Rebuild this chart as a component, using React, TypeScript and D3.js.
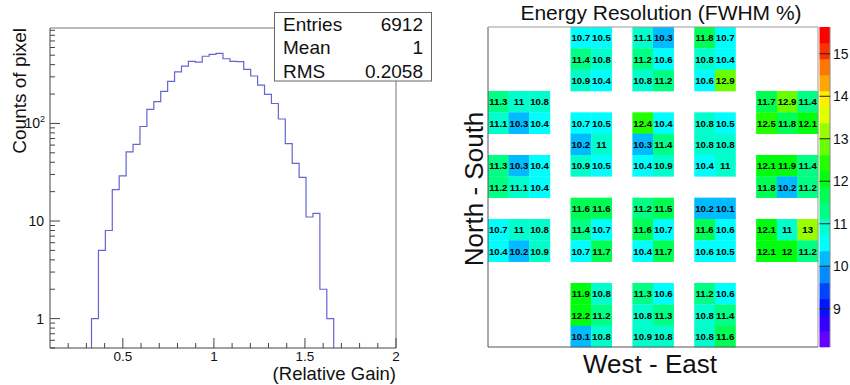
import React from "react";
import * as d3 from "d3";

const W = 850;
const H = 385;

// ---------- Histogram data ----------
const histLo = 0.1;
const histHi = 2.0;
const histBins = 50;
const firstFilledBin = 6;
const binCounts = [1, 5, 8, 21, 29, 51, 61, 93, 139, 167, 213, 270, 338, 387, 432, 424, 488, 510, 523, 460, 432, 430, 358, 306, 247, 198, 160, 111, 62, 39, 28, 11, 12, 2, 1];
const xMajorTicks = [0.5, 1, 1.5, 2];
const xMajorLabels = ["0.5", "1", "1.5", "2"];
const yMajorTicks = [1, 10, 100];
const statsLabels = ["Entries", "Mean", "RMS"];
const statsValues = ["6912", "1", "0.2058"];

// ---------- Heat map data (rows top -> bottom, 16 columns) ----------
const _ = null;
const resolution: (number | null)[][] = [
  [_, _, _, _, 10.7, 10.5, _, 11.1, 10.3, _, 11.8, 10.7, _, _, _, _],
  [_, _, _, _, 11.4, 10.8, _, 11.2, 10.6, _, 10.8, 10.4, _, _, _, _],
  [_, _, _, _, 10.9, 10.4, _, 10.8, 11.2, _, 10.6, 12.9, _, _, _, _],
  [11.3, 11, 10.8, _, _, _, _, _, _, _, _, _, _, 11.7, 12.9, 11.4],
  [11.1, 10.3, 10.4, _, 10.7, 10.5, _, 12.4, 10.4, _, 10.8, 10.5, _, 12.5, 11.8, 12.1],
  [_, _, _, _, 10.2, 11, _, 10.3, 11.4, _, 10.8, 10.8, _, _, _, _],
  [11.3, 10.3, 10.4, _, 10.9, 10.5, _, 10.4, 10.9, _, 10.4, 11, _, 12.1, 11.9, 11.4],
  [11.2, 11.1, 10.4, _, _, _, _, _, _, _, _, _, _, 11.8, 10.2, 11.2],
  [_, _, _, _, 11.6, 11.6, _, 11.2, 11.5, _, 10.2, 10.1, _, _, _, _],
  [10.7, 11, 10.8, _, 11.4, 10.7, _, 11.6, 10.7, _, 11.6, 10.6, _, 12.1, 11, 13],
  [10.4, 10.2, 10.9, _, 10.7, 11.7, _, 10.4, 11.7, _, 10.6, 10.5, _, 12.1, 12, 11.2],
  [_, _, _, _, _, _, _, _, _, _, _, _, _, _, _, _],
  [_, _, _, _, 11.9, 10.8, _, 11.3, 10.6, _, 11.2, 10.6, _, _, _, _],
  [_, _, _, _, 12.2, 11.2, _, 10.8, 11.3, _, 10.8, 11.4, _, _, _, _],
  [_, _, _, _, 10.1, 10.8, _, 10.9, 10.8, _, 10.8, 11.6, _, _, _, _],
];
const zMin = 8.1;
const zMax = 15.63;
const nContours = 20;
const paletteSize = 50;
const zTicks = [9, 10, 11, 12, 13, 14, 15];

const FONT = "'Liberation Sans', Arial, Helvetica, sans-serif";

function contourColor(v: number): string {
  const k = Math.max(0, Math.min(nContours - 1, Math.floor(((v - zMin) / (zMax - zMin)) * nContours)));
  const idx = Math.floor(((k + 0.99) * paletteSize) / nContours);
  const hue = 280 - (idx + 1) * (280 / paletteSize);
  return d3.hsl(hue, 1, 0.5).formatHex();
}

function Histogram() {
  const x0 = 50, x1 = 396, y0 = 28, y1 = 348;
  const x = d3.scaleLinear().domain([histLo, histHi]).range([x0, x1]);
  const y = d3.scaleLog().domain([0.5, 950]).range([y1, y0]);
  const bw = (histHi - histLo) / histBins;

  let path = `M${x(histLo + firstFilledBin * bw)},${y1}`;
  binCounts.forEach((c, i) => {
    const b = firstFilledBin + i;
    path += `V${y(c)}H${x(histLo + (b + 1) * bw)}`;
  });
  path += `V${y1}`;

  const minorX: number[] = [];
  for (let i = 2; i <= 19; i++) {
    const v = i / 10;
    if (!xMajorTicks.some((m) => Math.abs(m - v) < 1e-6)) minorX.push(v);
  }
  const minorY: number[] = [];
  [0.1, 1, 10, 100].forEach((d) => {
    for (let m = 2; m <= 9; m++) {
      const v = m * d;
      if (v >= 0.5 && v <= 950) minorY.push(v);
    }
  });

  const ax = "#444";
  const stX = 274.5, stY = 12.5, stW = 157, stH = 68.5;
  return (
    <g>
      <path d={path} fill="none" stroke="#6464d2" strokeWidth={1.2} />
      {/* frame */}
      <line x1={x0} x2={x0} y1={y0} y2={y1} stroke={ax} />
      <line x1={x0} x2={x1} y1={y1} y2={y1} stroke={ax} />
      <line x1={x0} x2={x1} y1={y0} y2={y0} stroke="#777" />
      <line x1={x1} x2={x1} y1={y0} y2={y1} stroke="#777" />
      {/* x ticks */}
      {xMajorTicks.map((t, i) => (
        <g key={"xm" + i}>
          <line x1={x(t)} x2={x(t)} y1={y1} y2={y1 - 10} stroke={ax} />
          <text x={x(t)} y={361} textAnchor="middle" fontSize={13.5} fontFamily={FONT} fill="#111">
            {xMajorLabels[i]}
          </text>
        </g>
      ))}
      {minorX.map((t, i) => (
        <line key={"xn" + i} x1={x(t)} x2={x(t)} y1={y1} y2={y1 - 5} stroke={ax} />
      ))}
      {/* y ticks */}
      {yMajorTicks.map((t, i) => (
        <g key={"ym" + i}>
          <line x1={x0} x2={x0 + 10} y1={y(t)} y2={y(t)} stroke={ax} />
          <text x={t === 100 ? 45 : 44} y={y(t) + 5} textAnchor="end" fontSize={14} fontFamily={FONT} fill="#111">
            {t === 100 ? (
              <>
                <tspan>10</tspan>
                <tspan dy={-6} fontSize={9}>2</tspan>
              </>
            ) : (
              String(t)
            )}
          </text>
        </g>
      ))}
      {minorY.map((t, i) => (
        <line key={"yn" + i} x1={x0} x2={x0 + 5} y1={y(t)} y2={y(t)} stroke={ax} />
      ))}
      {/* axis titles */}
      <text transform={`translate(26,${y0}) rotate(-90)`} textAnchor="end" fontSize={19} fontFamily={FONT} fill="#111">
        Counts of pixel
      </text>
      <text x={x1} y={380} textAnchor="end" fontSize={18.5} fontFamily={FONT} fill="#111">
        (Relative Gain)
      </text>
      {/* stats box */}
      <rect x={stX} y={stY} width={stW} height={stH} fill="white" stroke="#666" />
      {statsLabels.map((l, i) => (
        <g key={"st" + i}>
          <text x={283} y={30.5 + i * 23.5} fontSize={19} fontFamily={FONT} fill="#111">
            {l}
          </text>
          <text x={423} y={30.5 + i * 23.5} textAnchor="end" fontSize={19} fontFamily={FONT} fill="#111">
            {statsValues[i]}
          </text>
        </g>
      ))}
    </g>
  );
}

function HeatMap() {
  const fx0 = 488, fx1 = 818, fy0 = 27, fy1 = 347;
  const nCols = resolution[0].length;
  const nRows = resolution.length;
  const cx = d3.scaleLinear().domain([0, nCols]).range([fx0, fx1]);
  const cy = d3.scaleLinear().domain([0, nRows]).range([fy0, fy1]);
  const z = d3.scaleLinear().domain([zMin, zMax]).range([fy1, fy0]);
  const bx0 = 819.5, bx1 = 830;
  const dz = (zMax - zMin) / nContours;

  const cells: { r: number; c: number; v: number }[] = [];
  resolution.forEach((row, r) =>
    row.forEach((v, c) => {
      if (v !== null) cells.push({ r, c, v });
    })
  );

  return (
    <g>
      {cells.map((d, i) => (
        <rect
          key={"c" + i}
          x={cx(d.c)}
          y={cy(d.r)}
          width={cx(d.c + 1) - cx(d.c) + 0.3}
          height={cy(d.r + 1) - cy(d.r) + 0.3}
          fill={contourColor(d.v)}
        />
      ))}
      {cells.map((d, i) => (
        <text
          key={"t" + i}
          x={(cx(d.c) + cx(d.c + 1)) / 2}
          y={(cy(d.r) + cy(d.r + 1)) / 2 + 3.5}
          textAnchor="middle"
          fontSize={9.6}
          fontWeight="bold"
          fontFamily={FONT}
          fill="#000"
        >
          {String(+d.v.toFixed(1))}
        </text>
      ))}
      {/* frame */}
      <line x1={fx0} x2={fx0} y1={fy0} y2={fy1} stroke="#555" />
      <line x1={fx0} x2={fx1} y1={fy1} y2={fy1} stroke="#555" />
      <line x1={fx0} x2={fx1} y1={fy0} y2={fy0} stroke="#999" />
      <line x1={fx1} x2={fx1} y1={fy0} y2={fy1} stroke="#999" />
      {/* color bar */}
      {d3.range(nContours).map((k) => (
        <rect
          key={"p" + k}
          x={bx0}
          y={z(zMin + (k + 1) * dz)}
          width={bx1 - bx0}
          height={z(zMin + k * dz) - z(zMin + (k + 1) * dz) + 0.3}
          fill={contourColor(zMin + (k + 0.5) * dz)}
        />
      ))}
      <line x1={bx1} x2={bx1} y1={fy0} y2={fy1} stroke="#888" />
      {zTicks.map((t) => (
        <g key={"zt" + t}>
          <line x1={bx0} x2={bx1} y1={z(t)} y2={z(t)} stroke="#222" />
          <text x={833} y={z(t) + 5} fontSize={14} fontFamily={FONT} fill="#111">
            {t}
          </text>
        </g>
      ))}
      {/* titles */}
      <text x={661} y={20} textAnchor="middle" fontSize={21} fontFamily={FONT} fill="#111">
        Energy Resolution (FWHM %)
      </text>
      <text x={650} y={373} textAnchor="middle" fontSize={26} fontFamily={FONT} fill="#111">
        West - East
      </text>
      <text transform={`translate(483,189) rotate(-90)`} textAnchor="middle" fontSize={26} fontFamily={FONT} fill="#111">
        North - South
      </text>
    </g>
  );
}

export default function App() {
  return (
    <svg
      width={W}
      height={H}
      viewBox={`0 0 ${W} ${H}`}
      style={{ position: "absolute", left: 0, top: 0, background: "white" }}
    >
      <rect width={W} height={H} fill="white" />
      <Histogram />
      <HeatMap />
    </svg>
  );
}
